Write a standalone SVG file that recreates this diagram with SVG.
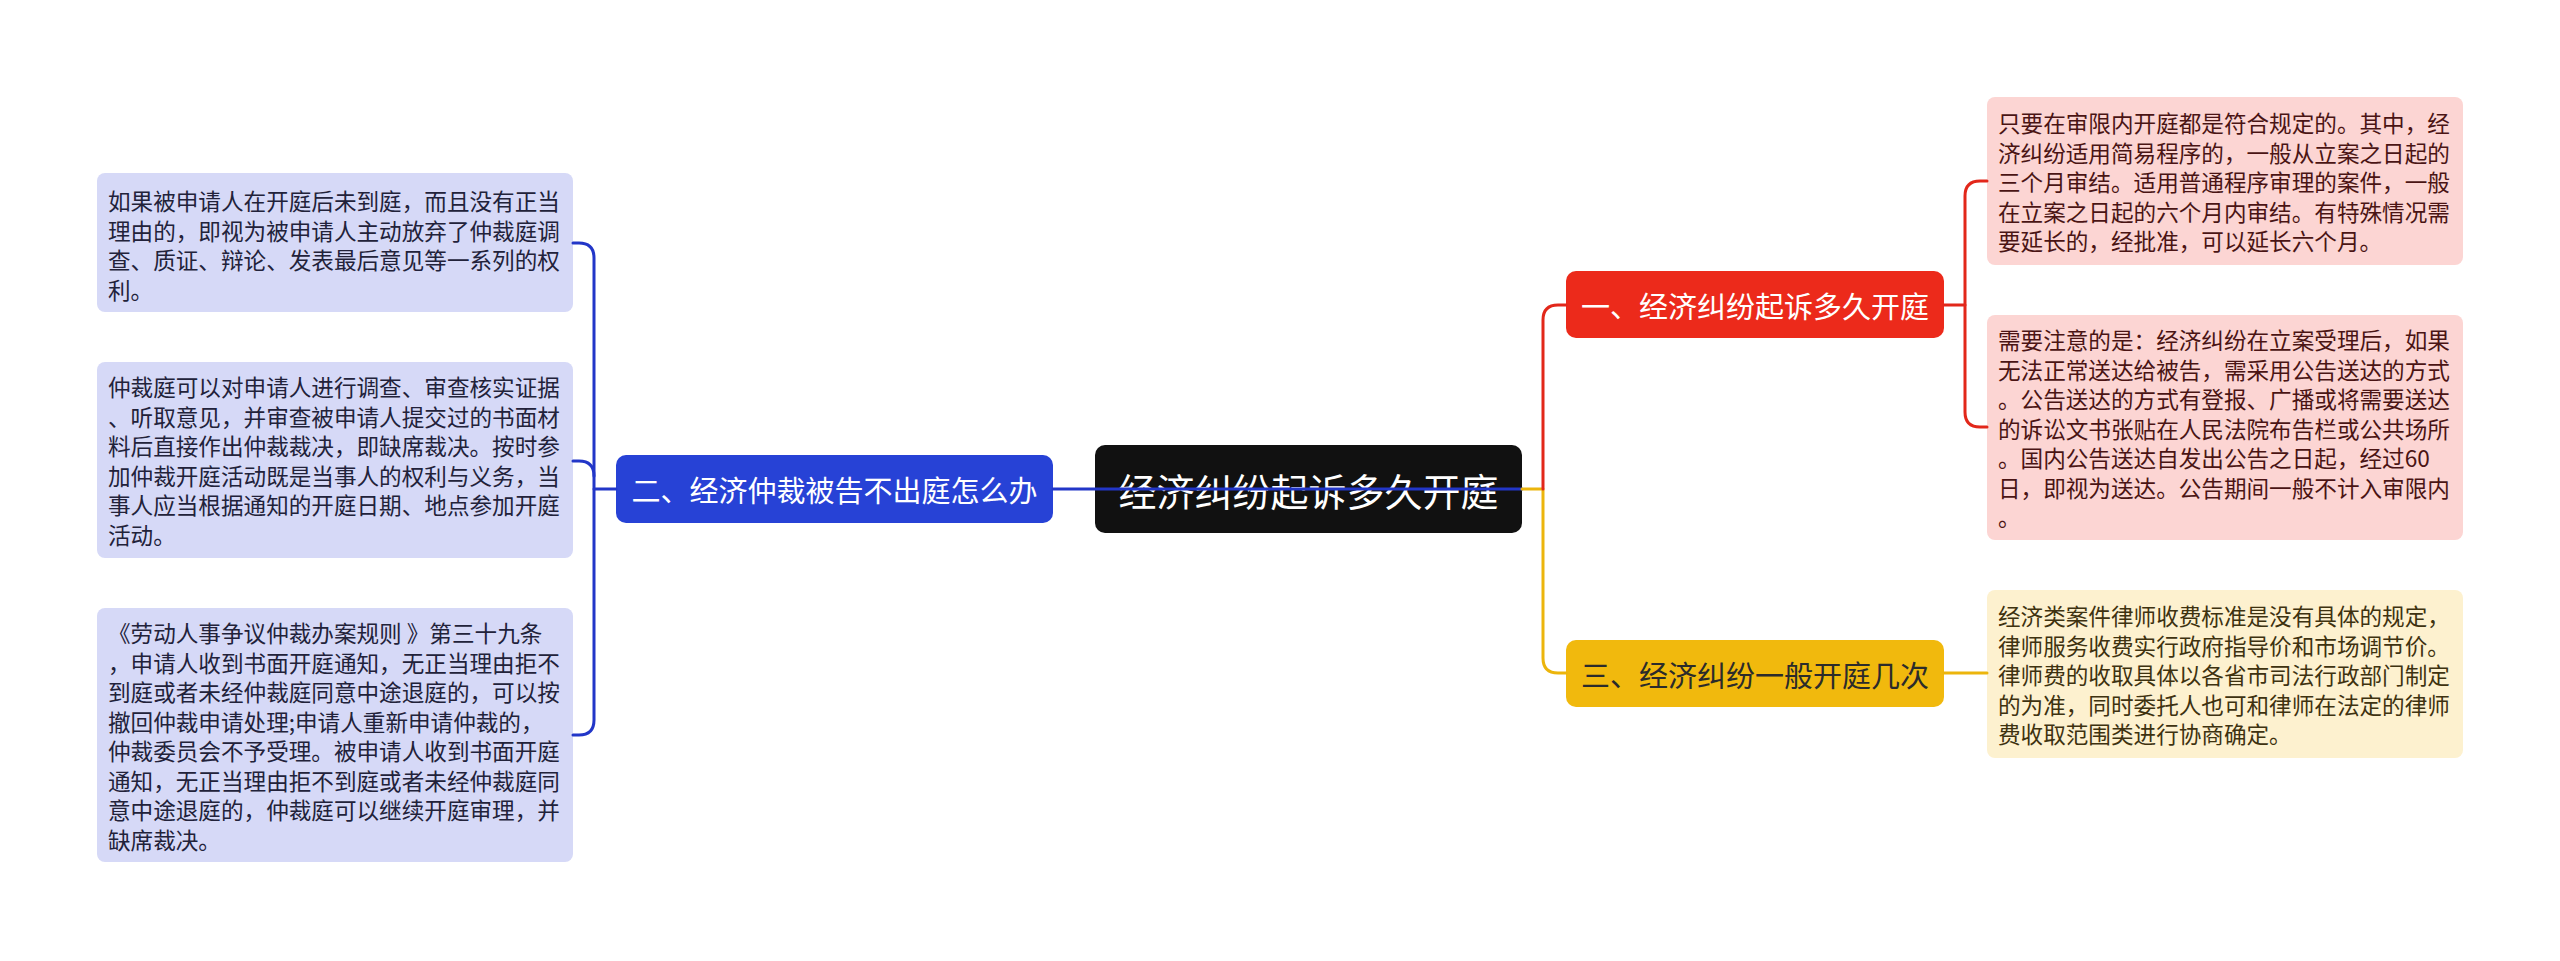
<svg xmlns="http://www.w3.org/2000/svg" width="2560" height="961" viewBox="0 0 2560 961">
<style>
text{font-family:"Noto Sans CJK SC","Noto Sans",sans-serif;dominant-baseline:central}
.leafL{fill:#d6d9f7}
.leafR{fill:#fcd5d3}
.leafY{fill:#fdf1cf}
.tL{font-size:22.6px;fill:#22223a}
.tR{font-size:22.6px;fill:#4a1414}
.tY{font-size:22.6px;fill:#3e3210}
.br{font-size:29px;text-anchor:middle}
.c{fill:none;stroke-width:3;stroke-linecap:round;stroke-linejoin:round}
.cb{stroke:#2236c8}
.cr{stroke:#e2271a}
.cy{stroke:#ecb50c}
</style>
<rect width="2560" height="961" fill="#ffffff"/>
<g id="root">
<rect x="1095" y="445" width="427" height="88" rx="10" fill="#111111"/>
<text x="1308.5" y="489" font-size="38" fill="#ffffff" text-anchor="middle">经济纠纷起诉多久开庭</text>
</g>
<g id="branch2">
<rect x="616" y="455" width="437" height="68" rx="10" fill="#2742d6"/>
<text class="br" x="834.5" y="489" fill="#ffffff">二、经济仲裁被告不出庭怎么办</text>
</g>
<g id="branch1">
<rect x="1566" y="271" width="378" height="67" rx="10" fill="#ec2a1b"/>
<text class="br" x="1755" y="304.5" fill="#ffffff">一、经济纠纷起诉多久开庭</text>
</g>
<g id="branch3">
<rect x="1566" y="640" width="378" height="67" rx="10" fill="#f1b90d"/>
<text class="br" x="1755" y="673.5" fill="#2b2b2b">三、经济纠纷一般开庭几次</text>
</g>
<g id="leafL1">
<rect class="leafL" x="97" y="173" width="476" height="139" rx="8"/>
<text class="tL"><tspan x="108" y="200">如果被申请人在开庭后未到庭，而且没有正当</tspan><tspan x="108" y="229.5">理由的，即视为被申请人主动放弃了仲裁庭调</tspan><tspan x="108" y="259">查、质证、辩论、发表最后意见等一系列的权</tspan><tspan x="108" y="288.5">利。</tspan></text>
</g>
<g id="leafL2">
<rect class="leafL" x="97" y="362" width="476" height="196" rx="8"/>
<text class="tL"><tspan x="108" y="386">仲裁庭可以对申请人进行调查、审查核实证据</tspan><tspan x="108" y="415.5">、听取意见，并审查被申请人提交过的书面材</tspan><tspan x="108" y="445">料后直接作出仲裁裁决，即缺席裁决。按时参</tspan><tspan x="108" y="474.5">加仲裁开庭活动既是当事人的权利与义务，当</tspan><tspan x="108" y="504">事人应当根据通知的开庭日期、地点参加开庭</tspan><tspan x="108" y="533.5">活动。</tspan></text>
</g>
<g id="leafL3">
<rect class="leafL" x="97" y="608" width="476" height="254" rx="8"/>
<text class="tL"><tspan x="108" y="632">《劳动人事争议仲裁办案规则 》第三十九条</tspan><tspan x="108" y="661.5">，申请人收到书面开庭通知，无正当理由拒不</tspan><tspan x="108" y="691">到庭或者未经仲裁庭同意中途退庭的，可以按</tspan><tspan x="108" y="720.5">撤回仲裁申请处理;申请人重新申请仲裁的，</tspan><tspan x="108" y="750">仲裁委员会不予受理。被申请人收到书面开庭</tspan><tspan x="108" y="779.5">通知，无正当理由拒不到庭或者未经仲裁庭同</tspan><tspan x="108" y="809">意中途退庭的，仲裁庭可以继续开庭审理，并</tspan><tspan x="108" y="838.5">缺席裁决。</tspan></text>
</g>
<g id="leafR1">
<rect class="leafR" x="1987" y="97" width="476" height="168" rx="8"/>
<text class="tR"><tspan x="1998" y="122">只要在审限内开庭都是符合规定的。其中，经</tspan><tspan x="1998" y="151.5">济纠纷适用简易程序的，一般从立案之日起的</tspan><tspan x="1998" y="181">三个月审结。适用普通程序审理的案件，一般</tspan><tspan x="1998" y="210.5">在立案之日起的六个月内审结。有特殊情况需</tspan><tspan x="1998" y="240">要延长的，经批准，可以延长六个月。</tspan></text>
</g>
<g id="leafR2">
<rect class="leafR" x="1987" y="315" width="476" height="225" rx="8"/>
<text class="tR"><tspan x="1998" y="339">需要注意的是：经济纠纷在立案受理后，如果</tspan><tspan x="1998" y="368.5">无法正常送达给被告，需采用公告送达的方式</tspan><tspan x="1998" y="398">。公告送达的方式有登报、广播或将需要送达</tspan><tspan x="1998" y="427.5">的诉讼文书张贴在人民法院布告栏或公共场所</tspan><tspan x="1998" y="457">。国内公告送达自发出公告之日起，经过60</tspan><tspan x="1998" y="486.5">日，即视为送达。公告期间一般不计入审限内</tspan><tspan x="1998" y="516">。</tspan></text>
</g>
<g id="leafR3">
<rect class="leafY" x="1987" y="590" width="476" height="168" rx="8"/>
<text class="tY"><tspan x="1998" y="615">经济类案件律师收费标准是没有具体的规定，</tspan><tspan x="1998" y="644.5">律师服务收费实行政府指导价和市场调节价。</tspan><tspan x="1998" y="674">律师费的收取具体以各省市司法行政部门制定</tspan><tspan x="1998" y="703.5">的为准，同时委托人也可和律师在法定的律师</tspan><tspan x="1998" y="733">费收取范围类进行协商确定。</tspan></text>
</g>
<g id="connectors">
<path class="c cb" d="M1522,489 L1053,489"/>
<path class="c cb" d="M616,489 L594,489"/>
<path class="c cb" d="M573,243 L579,243 Q594,243 594,258 L594,720 Q594,735 579,735 L573,735"/>
<path class="c cb" d="M573,461 L579,461 Q594,461 594,476"/>
<path class="c cy" d="M1522,489 L1543,489 L1543,658 Q1543,673 1558,673 L1566,673"/>
<path class="c cr" d="M1543,489 L1543,320 Q1543,305 1558,305 L1566,305"/>
<path class="c cr" d="M1944,305 L1965,305"/>
<path class="c cr" d="M1987,181 L1980,181 Q1965,181 1965,196 L1965,412 Q1965,427 1980,427 L1987,427"/>
<path class="c cy" d="M1944,673 L1987,673"/>
</g>
</svg>
